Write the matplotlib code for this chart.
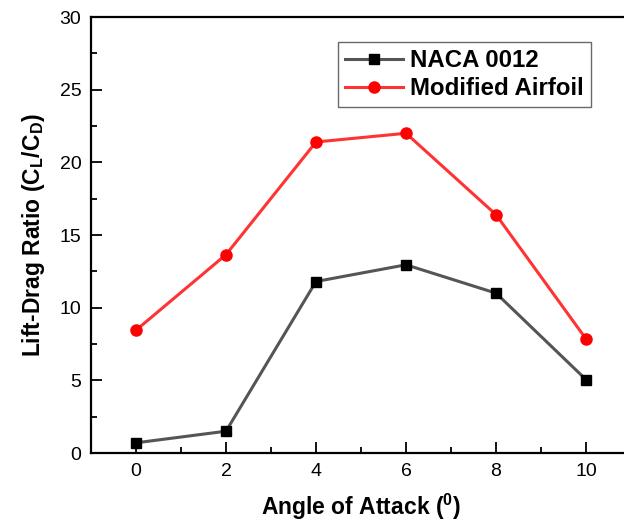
import matplotlib
matplotlib.use('Agg')
import matplotlib.pyplot as plt
from matplotlib.ticker import MultipleLocator

# ---------------------------------------------------------#
# Data                                                     #
# ---------------------------------------------------------#
angle    = [0, 2, 4, 6, 8, 10]
naca     = [0.7, 1.5, 11.8, 12.95, 11.0, 5.05]
modified = [8.45, 13.65, 21.4, 22.0, 16.4, 7.85]

label_naca = 'NACA 0012'
label_mod  = 'Modified Airfoil'

plt.rcParams['font.family'] = ['Liberation Sans', 'DejaVu Sans']
plt.rcParams['mathtext.fontset'] = 'custom'
plt.rcParams['mathtext.rm'] = 'Liberation Sans:bold'
plt.rcParams['mathtext.it'] = 'Liberation Sans:bold'
plt.rcParams['mathtext.bf'] = 'Liberation Sans:bold'

W, H = 624, 521
fig = plt.figure(figsize=(W/100, H/100), dpi=100)
# axes extends past right edge of figure, as in the reference
l, r, t, b = 91, 631, 17, 453
ax = fig.add_axes([l/W, 1 - b/H, (r - l)/W, (b - t)/H])

ax.plot(angle, naca, color='#555555', lw=2.2, marker='s', ms=7,
        mfc='black', mec='black', label=label_naca)
ax.plot(angle, modified, color='#ff3333', lw=2.2, marker='o', ms=8,
        mfc='red', mec='red', label=label_mod)

ax.set_xlim(-1, 11)
ax.set_ylim(0, 30)
ax.xaxis.set_major_locator(MultipleLocator(2))
ax.xaxis.set_minor_locator(MultipleLocator(1))
ax.yaxis.set_major_locator(MultipleLocator(5))
ax.yaxis.set_minor_locator(MultipleLocator(2.5))
ax.tick_params(which='both', direction='in', labelsize=14, width=1.3,
               top=False, right=False)
ax.tick_params(which='major', length=8, pad=7)
ax.tick_params(which='minor', length=4)
for s in ax.spines.values():
    s.set_linewidth(1.6)

ax.set_xlabel(r'Angle of Attack ($\mathrm{^0}$)', fontsize=16.5,
              fontweight='bold', labelpad=9)
ax.set_ylabel(r'Lift-Drag Ratio ($\mathrm{C_L/C_D}$)', fontsize=16.5,
              fontweight='bold', labelpad=9)

leg = ax.legend(loc='upper left', bbox_to_anchor=((338 - l)/(r - l), 1 - (42 - t)/(b - t)),
                prop={'weight': 'bold', 'size': 17.3}, fancybox=False,
                edgecolor='#444444', handlelength=2.4, borderpad=0.3,
                labelspacing=0.2, handletextpad=0.3, borderaxespad=0)
leg.get_frame().set_linewidth(1.0)

fig.savefig('out.png', dpi=100)
